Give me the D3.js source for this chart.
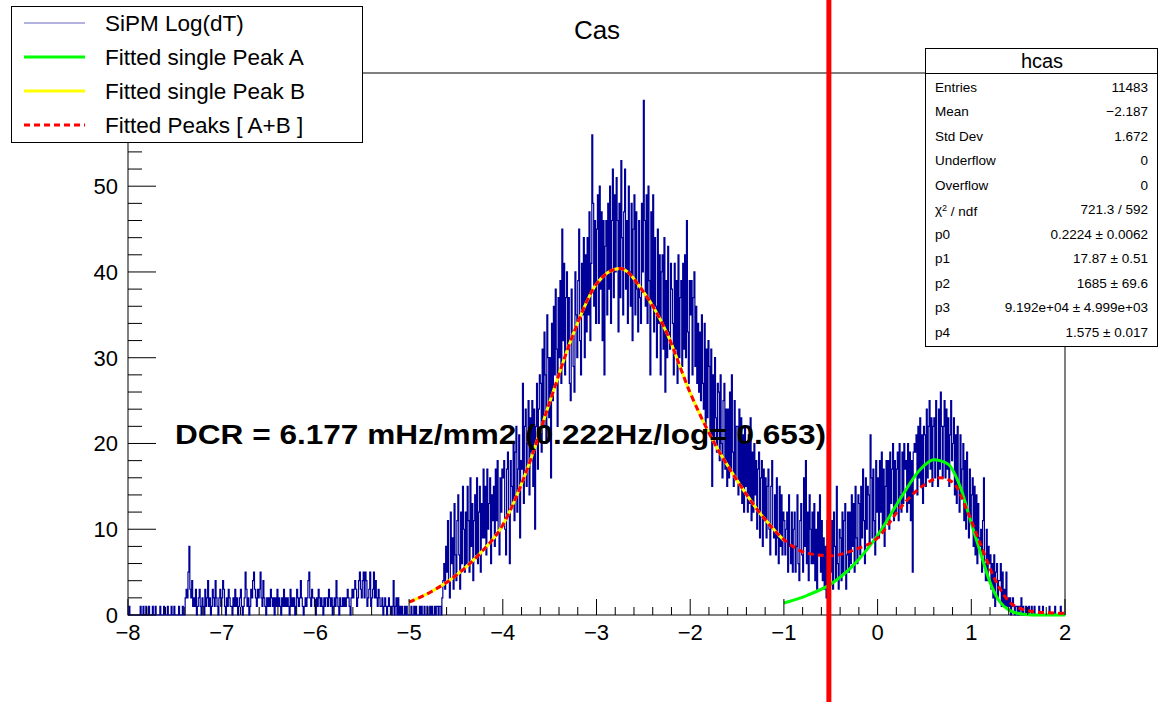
<!DOCTYPE html>
<html>
<head>
<meta charset="utf-8">
<script src="https://cdn.jsdelivr.net/npm/d3@7"></script>
<style>
  body { margin: 0; background: #fff; }
  svg { font-family: "Liberation Sans", Arial, sans-serif; }
</style>
</head>
<body>
<svg id="chart" width="1159" height="702"></svg>
<script>
// chart size
const width = 1159;
const height = 702;
const frame = { left: 128, right: 1065, top: 73, bottom: 615 };

// histogram: 1000 bins of 0.01 from -8 to 2
const binStart = -8;
const binWidth = 0.01;

// -8.0 .. -5.0
const tailCounts = [
  0,1,0,0,0,0,0,0,0,0,
  0,0,0,1,0,0,1,0,0,1,
  0,0,1,0,0,0,1,0,0,1,
  0,0,0,0,1,0,0,0,1,0,
  0,0,1,0,0,0,1,0,0,1,
  0,0,0,0,1,0,0,0,1,0,
  0,2,3,2,5,8,3,2,4,1,
  2,1,3,0,1,2,3,1,0,2,
  1,0,3,1,2,4,1,2,0,1,
  3,2,1,4,2,1,0,2,3,1,
  2,4,3,1,0,2,1,3,2,1,
  1,0,2,1,3,1,2,0,1,2,
  3,1,0,1,2,5,3,1,2,0,
  1,3,2,4,5,3,2,1,3,2,
  3,5,2,1,4,2,1,0,2,1,
  2,1,3,2,1,2,0,2,1,3,
  1,2,1,0,2,1,3,1,2,1,
  2,1,0,3,1,2,1,2,0,1,
  3,2,1,2,4,2,1,0,1,2,
  1,2,4,5,2,1,3,2,2,1,
  0,2,1,3,2,1,2,1,0,2,
  1,2,2,1,3,2,1,2,0,1,
  2,1,4,2,1,0,2,1,1,2,
  1,2,1,2,3,2,1,0,2,3,
  2,3,4,3,1,2,4,5,3,2,
  4,5,2,5,4,1,2,3,5,1,
  2,3,5,2,4,2,1,3,2,1,
  1,2,0,1,2,1,0,1,2,1,
  1,0,1,4,0,1,2,0,2,0,
  1,0,1,0,0,1,0,1,0,0
];

// -5.0 .. -1.0
const peakBCounts = [
  0,0,1,0,0,1,0,1,0,0,
  0,1,0,1,0,0,1,0,0,1,
  0,0,1,0,1,0,0,1,0,1,
  1,0,1,1,0,2,4,6,3,8,
  5,11,4,2,12,6,9,3,13,7,
  4,11,14,7,3,12,6,15,10,5,
  12,6,15,11,5,16,8,13,4,11,
  14,7,16,6,12,15,5,13,9,17,
  9,15,7,17,10,13,16,6,14,11,
  15,8,17,11,18,10,7,16,12,17,
  16,18,10,7,17,19,12,6,18,15,
  13,20,11,19,22,12,17,21,9,18,
  17,27,13,22,24,15,20,25,14,23,
  19,25,15,24,10,22,27,17,24,28,
  27,19,31,22,33,28,20,35,30,23,
  30,16,34,25,36,28,38,31,22,37,
  30,39,27,45,32,41,28,37,40,31,
  37,27,25,38,33,29,26,40,35,30,
  39,45,32,28,41,35,44,30,42,33,
  44,35,47,32,41,56,48,36,46,34,
  45,49,34,50,38,47,32,46,28,43,
  46,35,48,38,50,34,46,52,37,49,
  40,51,46,33,48,37,53,44,35,47,
  52,38,46,34,50,40,36,48,32,45,
  49,35,47,38,33,46,37,34,48,40,
  60,46,36,49,34,50,39,28,47,36,
  49,33,44,36,30,45,34,42,28,40,
  42,31,44,26,39,30,43,33,31,41,
  38,34,28,41,31,39,27,42,30,37,
  39,29,41,31,42,30,46,33,27,39,
  35,39,28,37,40,29,36,27,34,26,
  33,25,35,27,24,34,22,31,23,32,
  29,21,31,15,28,20,30,23,19,27,
  26,18,28,20,16,25,27,17,24,15,
  24,16,26,17,28,19,15,25,16,22,
  22,14,24,15,23,13,21,12,22,15,
  20,12,21,13,23,11,19,12,20,14,
  18,10,17,19,9,16,18,8,17,11,
  16,9,15,17,10,7,15,18,10,9,
  14,7,16,9,6,15,8,14,7,12
];

// -1.0 .. 2.0
const peakACounts = [
  11,7,10,12,5,14,8,6,12,5,
  10,12,5,8,14,6,4,11,13,7,
  5,16,8,18,6,12,4,14,10,6,
  12,6,13,4,10,3,12,7,14,5,
  11,4,9,3,8,2,11,5,12,7,
  5,11,3,12,8,4,15,6,3,10,
  9,4,12,5,11,13,3,7,12,5,
  12,6,14,8,13,5,15,9,6,14,
  13,7,15,9,17,11,6,16,10,15,
  14,8,21,16,9,17,11,7,18,12,
  16,9,18,12,19,10,17,8,15,18,
  11,18,10,19,13,17,20,11,18,12,
  17,19,11,20,14,12,19,13,20,17,
  18,12,20,13,19,11,18,5,19,20,
  19,21,14,22,16,23,15,21,13,22,
  21,15,24,16,22,25,17,23,15,22,
  23,16,25,18,15,24,17,26,22,16,
  22,25,16,24,17,23,15,21,25,18,
  20,23,14,21,13,22,15,12,21,14,
  17,20,11,18,10,19,12,9,17,11,
  14,16,8,15,7,14,6,13,9,8,
  10,5,11,16,6,4,10,4,8,6,
  7,3,6,2,7,1,5,6,2,4,
  4,6,1,5,1,3,1,5,1,2,
  1,2,0,1,2,1,0,1,1,0,
  1,0,1,2,0,1,0,0,1,0,
  0,1,0,0,1,0,0,1,0,0,
  0,0,1,0,0,0,1,0,0,0,
  0,0,0,1,0,0,0,0,0,1,
  0,0,0,0,0,1,0,0,0,0
];

// fitted curves, points [x, y]
const peakBCurve = [
  [-5,1.5],[-4.75,2.8],[-4.5,4.6],[-4.25,7.1],[-4,10.5],[-3.75,16.7],[-3.5,24.8],
  [-3.25,32.7],[-3,38.6],[-2.75,40.4],[-2.5,37.7],[-2.25,32.9],[-2,25.9],
  [-1.75,20.2],[-1.5,15.7],[-1.25,11.8],[-1,8.7]
];
const peakACurve = [
  [-1,1.4],[-0.75,2.3],[-0.5,3.6],[-0.25,5.9],[0,9.3],[0.25,13.7],[0.45,16.9],
  [0.6,18.1],[0.75,17.6],[0.88,15.0],[1.0,10.7],[1.1,7.2],[1.2,3.8],[1.3,1.6],
  [1.4,0.6],[1.55,0.1],[1.75,0],[2,0]
];
const sumCurve = [
  [-5,1.5],[-4.75,2.8],[-4.5,4.6],[-4.25,7.1],[-4,10.5],[-3.75,16.7],[-3.5,24.8],
  [-3.25,32.7],[-3,38.6],[-2.75,40.4],[-2.5,37.7],[-2.25,32.9],[-2,25.9],
  [-1.75,20.2],[-1.5,15.7],[-1.25,11.8],[-1,8.8],[-0.75,7.2],[-0.5,6.9],
  [-0.25,7.6],[0,9.0],[0.25,12.6],[0.5,15.2],[0.67,16.0],[0.81,15.4],[0.95,12.3],
  [1.1,8.2],[1.25,4.2],[1.4,1.6],[1.57,0.6],[1.75,0.3],[2,0.2]
];

const cutX = -0.52;

const legendLabels = ["SiPM Log(dT)", "Fitted single Peak A", "Fitted single Peak B", "Fitted Peaks [ A+B ]"];
const legendColors = ["#000099", "#00ff00", "#ffff00", "#ff0000"];

const statLabels = ["Entries", "Mean", "Std Dev", "Underflow", "Overflow", "χ2 / ndf", "p0", "p1", "p2", "p3", "p4"];
const statValues = ["11483", "\u22122.187", "1.672", "0", "0", "721.3 / 592", "0.2224 \u00b1 0.0062",
  "17.87 \u00b1 0.51", "1685 \u00b1 69.6", "9.192e+04 \u00b1 4.999e+03", "1.575 \u00b1 0.017"];

const xTicks = d3.range(-8, 3, 1);
const yTicks = d3.range(0, 51, 10);   // 60 sits under the legend

const dcrText = "DCR = 6.177 mHz/mm2 (0.222Hz/log= 0.653)";

// ---------------------------------------------------------------
const counts = tailCounts.concat(peakBCounts, peakACounts);

const svg = d3.select('#chart');
svg.append('rect').attr('width', width).attr('height', height).attr('fill', '#fff');

const x = d3.scaleLinear().domain([-8, 2]).range([frame.left, frame.right]);
const y = d3.scaleLinear().domain([0, 63.2]).range([frame.bottom, frame.top]);

// frame
svg.append('rect')
  .attr('x', frame.left).attr('y', frame.top)
  .attr('width', frame.right - frame.left).attr('height', frame.bottom - frame.top)
  .attr('fill', 'none').attr('stroke', '#000').attr('stroke-width', 1);

// histogram as steps
const stepPts = [[binStart, 0]];
counts.forEach((c, i) => {
  stepPts.push([binStart + i * binWidth, c]);
  stepPts.push([binStart + (i + 1) * binWidth, c]);
});
stepPts.push([binStart + counts.length * binWidth, 0]);

svg.append('path')
  .datum(stepPts)
  .attr('fill', 'none')
  .attr('stroke', '#000099')
  .attr('stroke-width', 1.2)
  .attr('d', d3.line().x(d => x(d[0])).y(d => y(d[1])));

// fits
const fitLine = d3.line().x(d => x(d[0])).y(d => y(d[1])).curve(d3.curveMonotoneX);
svg.append('path').datum(peakBCurve).attr('fill', 'none')
  .attr('stroke', '#ffff00').attr('stroke-width', 3).attr('d', fitLine);
svg.append('path').datum(peakACurve).attr('fill', 'none')
  .attr('stroke', '#00ff00').attr('stroke-width', 3).attr('d', fitLine);
svg.append('path').datum(sumCurve).attr('fill', 'none')
  .attr('stroke', '#ff0000').attr('stroke-width', 3)
  .attr('stroke-dasharray', '6,4').attr('d', fitLine);

// x axis ticks (inside, upward)
const xAxis = svg.append('g');
d3.range(-8, 2.001, 0.2).forEach(v => {
  const major = Math.abs(v - Math.round(v)) < 1e-6;
  xAxis.append('line')
    .attr('x1', x(v)).attr('x2', x(v))
    .attr('y1', frame.bottom).attr('y2', frame.bottom - (major ? 16 : 8))
    .attr('stroke', '#000');
});
xAxis.selectAll('text')
  .data(xTicks)
  .join('text')
    .attr('x', d => x(d))
    .attr('y', frame.bottom + 25)
    .attr('text-anchor', 'middle')
    .style('font-size', '22px')
    .text(d => d < 0 ? '\u2212' + Math.abs(d) : d);

// y axis ticks (inside, to the right)
const yAxis = svg.append('g');
d3.range(0, 63, 2).forEach(v => {
  const major = v % 10 === 0;
  yAxis.append('line')
    .attr('x1', frame.left).attr('x2', frame.left + (major ? 28 : 14))
    .attr('y1', y(v)).attr('y2', y(v))
    .attr('stroke', '#000');
});
yAxis.selectAll('text')
  .data(yTicks)
  .join('text')
    .attr('x', frame.left - 10)
    .attr('y', d => y(d))
    .attr('dy', '0.36em')
    .attr('text-anchor', 'end')
    .style('font-size', '22px')
    .text(d => d);

// title
svg.append('text')
  .attr('x', 597).attr('y', 39)
  .attr('text-anchor', 'middle')
  .style('font-size', '26px')
  .text('Cas');

// DCR annotation
svg.append('text')
  .attr('x', 175).attr('y', 444)
  .attr('textLength', 651)
  .attr('lengthAdjust', 'spacingAndGlyphs')
  .style('font-size', '27px')
  .style('font-weight', 'bold')
  .text(dcrText);

// legend
const legend = svg.append('g');
legend.append('rect')
  .attr('x', 11.5).attr('y', 6.5).attr('width', 351).attr('height', 136)
  .attr('fill', '#fff').attr('stroke', '#000');
legendLabels.forEach((label, i) => {
  const ly = 23 + i * 34;
  const ln = legend.append('line')
    .attr('x1', 24).attr('x2', 85).attr('y1', ly).attr('y2', ly)
    .attr('stroke', legendColors[i])
    .attr('stroke-width', i === 0 ? 1 : 3);
  if (i === 0) ln.attr('stroke-opacity', 0.6);
  if (i === 3) ln.attr('stroke-dasharray', '6,4');
  legend.append('text')
    .attr('x', 105).attr('y', ly)
    .attr('dy', '0.36em')
    .style('font-size', '22.5px')
    .text(label);
});

// stats box
const stats = svg.append('g');
stats.append('rect')
  .attr('x', 925.5).attr('y', 48.5).attr('width', 232).attr('height', 298)
  .attr('fill', '#fff').attr('stroke', '#000');
stats.append('line')
  .attr('x1', 925.5).attr('x2', 1157.5).attr('y1', 73.5).attr('y2', 73.5)
  .attr('stroke', '#000');
stats.append('text')
  .attr('x', 1042).attr('y', 61).attr('dy', '0.36em')
  .attr('text-anchor', 'middle')
  .style('font-size', '20px')
  .text('hcas');
statLabels.forEach((label, i) => {
  const sy = 87 + i * 24.5;
  const t = stats.append('text')
    .attr('x', 935).attr('y', sy).attr('dy', '0.36em')
    .style('font-size', '13.5px');
  if (label.startsWith('χ2')) {
    t.append('tspan').text('χ');
    t.append('tspan').attr('dy', '-0.4em').style('font-size', '9px').text('2');
    t.append('tspan').attr('dy', '0.4em').text(' / ndf');
  } else {
    t.text(label);
  }
  stats.append('text')
    .attr('x', 1148).attr('y', sy).attr('dy', '0.36em')
    .attr('text-anchor', 'end')
    .style('font-size', '13.5px')
    .text(statValues[i]);
});

// vertical cut line
svg.append('line')
  .attr('x1', x(cutX)).attr('x2', x(cutX))
  .attr('y1', 0).attr('y2', height)
  .attr('stroke', '#ff0000')
  .attr('stroke-width', 5);
</script>
</body>
</html>
